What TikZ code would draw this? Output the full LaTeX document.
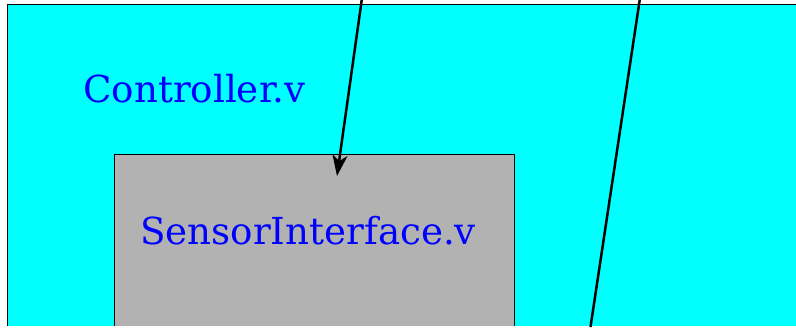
\documentclass[tikz,border=0pt]{standalone}
\usepackage{fontspec}
\setmainfont{DejaVu Serif}
\usetikzlibrary{positioning}
\usetikzlibrary{arrows.meta}
\definecolor{ctrlcyan}{RGB}{0,255,255}
\definecolor{sensorgray}{RGB}{178,178,178}

\begin{document}
\begin{tikzpicture}[x=1pt, y=-1pt, line width=2.5pt, >={Stealth[length=21pt, width=15pt, inset=6pt]}]
    \tikzstyle{module}=[draw=black, line width=0.8pt, rectangle, anchor=north west, inner sep=0pt]
    \tikzstyle{label}=[text=blue, anchor=base west, inner sep=0pt, font=\fontsize{37.2}{45}\selectfont]

    \useasboundingbox (0,0) rectangle (796,327);
    \fill[white] (0,0) rectangle (796,327);

    \begin{scope}
    \clip (0,0) rectangle (796,325);
	\node[module, fill=ctrlcyan, minimum width=820pt, minimum height=340pt] (ctrl) at (7,4) {};
	\node[module, fill=sensorgray, minimum width=400pt, minimum height=200pt] (sensor) at (114,154) {};
    \end{scope}

    \node[label] (ctrlname) at (82,102) {Controller.v};
    \node[label] (sensorname) at (139,244) {SensorInterface.v};

    \coordinate (in) at (362,-2);
    \coordinate (tip) at (337,176);
    \coordinate (outtop) at (640,-2);
    \coordinate (outbot) at (590.5,327);

    \draw[->] (in) -- (tip);
    \draw (outtop) -- (outbot);
\end{tikzpicture}
\end{document}
